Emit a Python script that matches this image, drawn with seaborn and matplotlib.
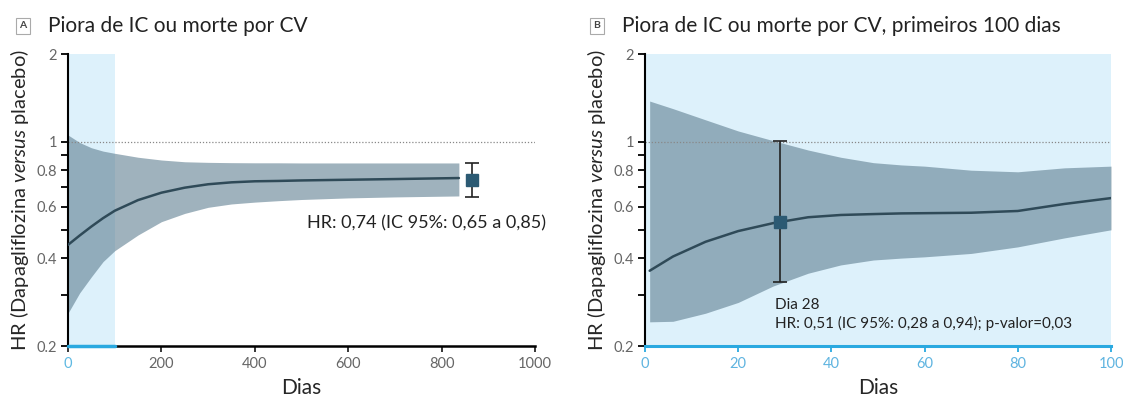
import numpy as np
import matplotlib
matplotlib.use("Agg")
import matplotlib.pyplot as plt
import matplotlib.ticker as mticker
import seaborn as sns
import pandas as pd

# === Dados painel A (todo o seguimento) ===
dias_a = [0, 25, 50, 75, 100, 150, 200, 250, 300, 350, 400, 450, 500, 600, 700, 837]
hr_a = [0.444, 0.478, 0.513, 0.548, 0.581, 0.632, 0.67, 0.697, 0.716, 0.727, 0.733, 0.735, 0.738, 0.742, 0.746, 0.752]
lo_a = [0.259, 0.304, 0.345, 0.389, 0.424, 0.48, 0.533, 0.569, 0.597, 0.613, 0.622, 0.629, 0.635, 0.643, 0.648, 0.653]
hi_a = [1.056, 0.995, 0.955, 0.93, 0.914, 0.886, 0.867, 0.855, 0.851, 0.849, 0.848, 0.848, 0.847, 0.847, 0.847, 0.847]
ponto_a = {"x": 865, "hr": 0.74, "lo": 0.65, "hi": 0.85}

# === Dados painel B (primeiros 100 dias) ===
dias_b = [1, 6, 13, 20, 27.5, 35, 42, 49, 55, 60, 70, 80, 90, 100]
hr_b = [0.362, 0.405, 0.455, 0.495, 0.527, 0.552, 0.562, 0.566, 0.569, 0.57, 0.572, 0.58, 0.613, 0.642]
lo_b = [0.242, 0.243, 0.259, 0.282, 0.321, 0.355, 0.379, 0.394, 0.40, 0.404, 0.415, 0.437, 0.469, 0.50]
hi_b = [1.38, 1.30, 1.19, 1.09, 1.01, 0.938, 0.886, 0.849, 0.834, 0.826, 0.80, 0.79, 0.815, 0.826]
ponto_b = {"x": 29, "hr": 0.533, "lo": 0.332, "hi": 1.01}

y_major = [0.2, 0.4, 0.6, 0.8, 1, 2]
y_labels = ["0.2", "0.4", "0.6", "0.8", "1", "2"]
y_minor = [0.3, 0.5, 0.7, 0.9]
janela_dias = 100

# === Estilo ===
sns.set_style("ticks")
plt.rcParams["font.family"] = ["Lato", "DejaVu Sans"]
plt.rcParams["mathtext.fontset"] = "custom"
plt.rcParams["mathtext.rm"] = "Lato"
plt.rcParams["mathtext.it"] = "Lato:italic"

azul_claro = "#ddf1fb"
ciano = "#2aa9e0"
faixa = "#5f7f91"
linha = "#2f4a58"
marcador = "#2c5a73"
cinza = "#666666"

fig = plt.figure(figsize=(11.23, 4.05), dpi=100)
ax_a = fig.add_axes([68 / 1123, 1 - 346 / 405, 467 / 1123, 292 / 405])
ax_b = fig.add_axes([645 / 1123, 1 - 346 / 405, 466 / 1123, 292 / 405])


def base_axes(ax):
    ax.set_yscale("log")
    ax.set_ylim(0.2, 2)
    ax.yaxis.set_major_locator(mticker.FixedLocator(y_major))
    ax.yaxis.set_major_formatter(mticker.FixedFormatter(y_labels))
    ax.yaxis.set_minor_locator(mticker.FixedLocator(y_minor))
    ax.yaxis.set_minor_formatter(mticker.NullFormatter())
    ax.tick_params(axis="y", which="both", length=5, width=1.3, color="black",
                   labelsize=10.5, labelcolor=cinza, pad=3)
    ax.tick_params(axis="x", length=4, width=1.3, labelsize=10.5, labelcolor=cinza, pad=4)
    for s in ["top", "right"]:
        ax.spines[s].set_visible(False)
    ax.spines["left"].set_linewidth(1.5)
    ax.spines["left"].set_color("black")
    ax.spines["bottom"].set_linewidth(1.8)
    ax.spines["bottom"].set_color("black")
    ax.axhline(1, color="#888888", lw=0.9, ls=(0, (1, 1.5)), zorder=2.5)
    ax.set_xlabel("Dias", fontsize=15, labelpad=5)
    ax.set_ylabel("HR (Dapagliflozina $\\it{versus}$ placebo)", fontsize=14.5, labelpad=4)


def curva(ax, dias, hr, lo, hi, ponto):
    df = pd.DataFrame({"dias": dias, "hr": hr, "lo": lo, "hi": hi})
    ax.fill_between(df["dias"], df["lo"], df["hi"], color=faixa, alpha=0.6, lw=0, zorder=2)
    sns.lineplot(data=df, x="dias", y="hr", ax=ax, color=linha, lw=1.8, zorder=3)
    ax.errorbar([ponto["x"]], [ponto["hr"]],
                yerr=[[ponto["hr"] - ponto["lo"]], [ponto["hi"] - ponto["hr"]]],
                fmt="s", color=marcador, ms=8, ecolor="#222222", elinewidth=1.2,
                capsize=5, capthick=1.2, zorder=4, clip_on=False)


# === Painel A ===
ax_a.axvspan(0, janela_dias, color=azul_claro, lw=0, zorder=0)
base_axes(ax_a)
curva(ax_a, dias_a, hr_a, lo_a, hi_a, ponto_a)
ax_a.set_xlim(0, 1000)
ax_a.set_xticks([0, 200, 400, 600, 800, 1000])
ax_a.axhline(0.2, xmin=0, xmax=janela_dias / 1000, color=ciano, lw=2.5, zorder=5, clip_on=False)
ax_a.get_xticklabels()[0].set_color("#5fb9e2")
ax_a.xaxis.get_major_ticks()[0].tick1line.set_color(ciano)
ax_a.text(512, 0.527, "HR: 0,74 (IC 95%: 0,65 a 0,85)", fontsize=13, color="#222222",
          ha="left", va="center", clip_on=False)

# === Painel B ===
ax_b.set_facecolor(azul_claro)
base_axes(ax_b)
curva(ax_b, dias_b, hr_b, lo_b, hi_b, ponto_b)
ax_b.set_xlim(0, 100)
ax_b.set_xticks([0, 20, 40, 60, 80, 100])
ax_b.spines["bottom"].set_color(ciano)
ax_b.spines["bottom"].set_linewidth(2.2)
ax_b.tick_params(axis="x", color=ciano, labelcolor="#5fb4e0")
ax_b.text(27.9, 0.257, "Dia 28\nHR: 0,51 (IC 95%: 0,28 a 0,94); p-valor=0,03", fontsize=11,
          color="#222222", ha="left", va="center", linespacing=1.35)

# === Títulos ===
for x_box, x_tit, letra, titulo in [
    (23 / 1123, 48 / 1123, "A", "Piora de IC ou morte por CV"),
    (597 / 1123, 622 / 1123, "B", "Piora de IC ou morte por CV, primeiros 100 dias"),
]:
    fig.text(x_box, 1 - 26 / 405, letra, fontsize=7.5, fontweight="bold", color="#444444",
             ha="center", va="center",
             bbox=dict(boxstyle="square,pad=0.35", fc="white", ec="#aaaaaa", lw=0.8))
    fig.text(x_tit, 1 - 26 / 405, titulo, fontsize=15, color="#222222", ha="left", va="center")

fig.savefig("out.png", dpi=100)
